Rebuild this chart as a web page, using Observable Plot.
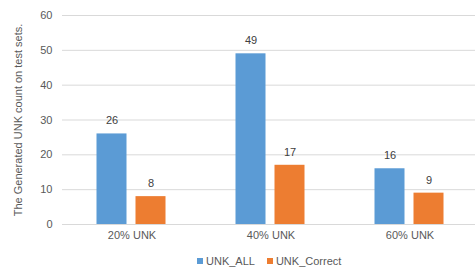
<!DOCTYPE html>
<html>
<head>
<meta charset="utf-8">
<script src="https://cdn.jsdelivr.net/npm/d3@7"></script>
<script src="https://cdn.jsdelivr.net/npm/@observablehq/plot@0.6"></script>
<style>
  html, body { margin: 0; padding: 0; background: #fff; overflow: hidden; }
  #legend { display: flex; align-items: center; height: 15px; margin-top: 6px; padding-left: 197px;
    font-family: "Liberation Sans", Arial, sans-serif; font-size: 11px; color: #595959; }
  .item { display: flex; align-items: center; margin-right: 12px; }
  .sw { width: 6px; height: 6px; margin-right: 3px; }
</style>
</head>
<body>
<div id="chart"></div>
<div id="legend"></div>
<script>
const categories = ["20% UNK", "40% UNK", "60% UNK"];
const series = ["UNK_ALL", "UNK_Correct"];
const unkAll = [26, 49, 16];
const unkCorrect = [8, 17, 9];
const yTicks = [0, 10, 20, 30, 40, 50, 60];
const colors = ["#5B9BD5", "#ED7D31"];
const yLabel = "The Generated UNK count on test sets.";

const data = categories.flatMap((c, i) => [
  {category: c, series: series[0], value: unkAll[i]},
  {category: c, series: series[1], value: unkCorrect[i]}
]);

const chart = Plot.plot({
  width: 475,
  height: 247,
  marginLeft: 61.5,
  marginRight: -5.3,
  marginTop: 15,
  marginBottom: 23,
  style: {fontFamily: "'Liberation Sans', Arial, sans-serif", fontSize: "11px", color: "#595959", background: "#fff"},
  fx: {domain: categories, padding: 0, label: null, tickSize: 0, tickPadding: 7, axis: "bottom"},
  x: {domain: series, axis: null, paddingInner: 0.225, paddingOuter: 0.8575},
  y: {domain: [0, 60], ticks: yTicks, tickSize: 0, tickPadding: 10, label: yLabel,
      labelAnchor: "center", labelOffset: 48, labelArrow: false},
  color: {domain: series, range: colors},
  marks: [
    Plot.gridY(yTicks, {stroke: "#d9d9d9", strokeOpacity: 1}),
    Plot.barY(data, {fx: "category", x: "series", y: "value", fill: "series"}),
    Plot.text(data, {fx: "category", x: "series", y: "value", text: d => String(d.value), dy: -13, fill: "#404040"})
  ]
});
document.getElementById("chart").appendChild(chart);

const legend = document.getElementById("legend");
series.forEach((s, i) => {
  const item = document.createElement("div");
  item.className = "item";
  const sw = document.createElement("div");
  sw.className = "sw";
  sw.style.background = colors[i];
  const t = document.createElement("span");
  t.textContent = s;
  item.appendChild(sw);
  item.appendChild(t);
  legend.appendChild(item);
});
</script>
</body>
</html>
